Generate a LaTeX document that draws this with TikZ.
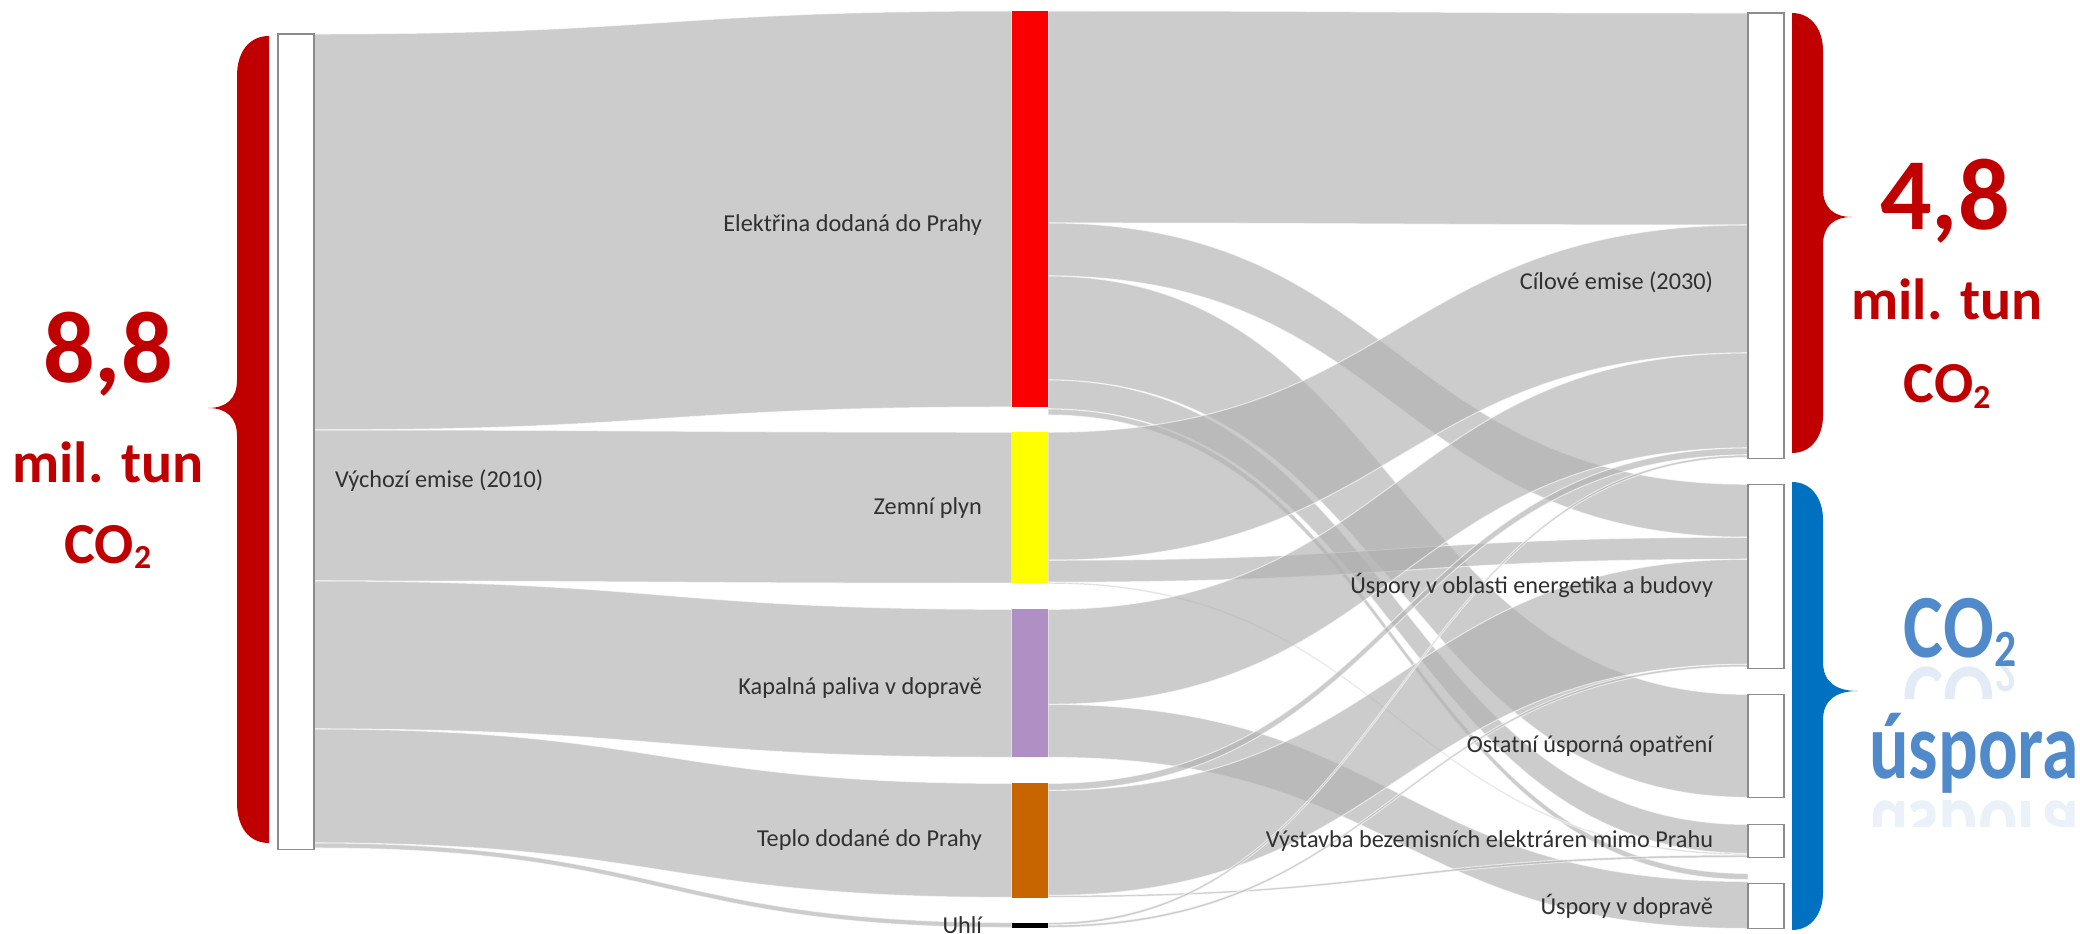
\documentclass[tikz,border=0pt]{standalone}
\usepackage{fontspec}
\usepackage{graphicx}
\setmainfont{Carlito}
\usetikzlibrary{positioning,calc}

\definecolor{stromrot}{RGB}{250,0,0}
\definecolor{plynzluta}{RGB}{255,255,0}
\definecolor{palivofialova}{RGB}{176,144,196}
\definecolor{teplooranz}{RGB}{199,101,0}
\definecolor{bracered}{RGB}{192,0,0}
\definecolor{braceblue}{RGB}{0,112,192}
\definecolor{saveblue}{RGB}{80,138,202}
\definecolor{flowgray}{RGB}{176,176,176}
\definecolor{labelgray}{RGB}{48,48,48}

\newcommand{\cotwo}{CO\raisebox{-0.1em}{\scalebox{0.58}{2}}}

\begin{document}
\begin{tikzpicture}
                    [
                        x=0.01cm, y=-0.01cm,
                        every node/.style={inner sep=0pt, outer sep=0pt},
                        box/.style={draw=black!45, line width=0.4pt, fill=white, minimum width=0.36cm, anchor=north west},
                        bar/.style={minimum width=0.36cm, anchor=north west},
                        lbl/.style={text=labelgray, font=\fontsize{6.9}{8}\selectfont},
                        flow/.style={fill=flowgray, fill opacity=0.65, draw=white, draw opacity=0.6, line width=0.3pt},
                        big/.style={text=bracered, font=\bfseries\fontsize{16.5}{18}\selectfont, anchor=base},
                        bluebig/.style={text=saveblue, font=\bfseries\fontsize{21.4}{24}\selectfont, anchor=base}
                    ]

                    % Rahmen
                    \useasboundingbox (0,0) rectangle (2080,934);

                    % Knoten
                    \node[box, minimum height=8.15cm] (start) at (278,34) {};
                    \node[bar, fill=stromrot, minimum height=3.96cm] (elec) at (1012,11) {};
                    \node[bar, fill=plynzluta, minimum height=1.51cm, below=0.25cm of elec] (gas) {};
                    \node[bar, fill=palivofialova, minimum height=1.48cm, below=0.26cm of gas] (fuel) {};
                    \node[bar, fill=teplooranz, minimum height=1.14cm, below=0.26cm of fuel] (heat) {};
                    \node[bar, fill=black, minimum height=0.05cm, below=0.25cm of heat] (coal) {};
                    \node[box, minimum height=4.45cm] (target) at (1748,13) {};
                    \node[box, minimum height=1.84cm, below=0.26cm of target] (saveb) {};
                    \node[box, minimum height=1.03cm, below=0.26cm of saveb] (saveo) {};
                    \node[box, minimum height=0.33cm, below=0.27cm of saveo] (savep) {};
                    \node[box, minimum height=0.45cm, below=0.26cm of savep] (savet) {};

                    % Fluesse
                    \foreach \src/\sa/\sb/\dst/\ta/\tb in {
                        start/0/396/elec/0/396, start/396/547/gas/0/151, start/547/695/fuel/0/148,
                        start/695/809/heat/0/114, start/809/814/coal/0/5,
                        elec/0/212/target/0/212, elec/212/265/saveb/0/53, elec/265/369/saveo/0/103,
                        elec/369/398/savep/0/29, elec/398/404/savet/-10/-4,
                        gas/0/128/target/212/340, gas/128/150/saveb/53/75, gas/150/151.5/savep/29/30.5,
                        fuel/0/95/target/340/435, fuel/95/148/savet/-2/45,
                        heat/0/7/target/435/442, heat/7/112/saveb/75/180, heat/112/114/savep/30.5/33,
                        coal/0/2.5/target/442/444.5, coal/2.5/5/saveb/180/182.5}
                    {
                        \path ($(\src.north east)+(0,\sa)$) coordinate (a1)
                              ($(\src.north east)+(0,\sb)$) coordinate (a2)
                              ($(\dst.north west)+(0,\ta)$) coordinate (b1)
                              ($(\dst.north west)+(0,\tb)$) coordinate (b2)
                              ($(a1)!.5!(b1)$) coordinate (m);
                        \path[flow] (a1) .. controls (m |- a1) and (m |- b1) .. (b1) -- (b2)
                              .. controls (m |- b2) and (m |- a2) .. (a2) -- cycle;
                    }

                    % Knoten nochmal oben
                    \node[box, minimum height=8.15cm] at (278,34) {};
                    \foreach \n/\c in {elec/stromrot, gas/plynzluta, fuel/palivofialova, heat/teplooranz, coal/black}
                        \fill[\c] (\n.north west) rectangle (\n.south east);
                    \foreach \n in {target, saveb, saveo, savep, savet}
                        \draw[draw=black!45, line width=0.4pt, fill=white] (\n.north west) rectangle (\n.south east);

                    % Beschriftung
                    \node[lbl, right=0.21cm of start, yshift=-0.385cm] (startlbl) {Výchozí emise (2010)};
                    \node[lbl, left=0.3cm of elec, yshift=-0.16cm] (eleclbl) {Elektřina dodaná do Prahy};
                    \node[lbl, left=0.3cm of gas] (gaslbl) {Zemní plyn};
                    \node[lbl, left=0.3cm of fuel, yshift=-0.05cm] (fuellbl) {Kapalná paliva v dopravě};
                    \node[lbl, left=0.3cm of heat] (heatlbl) {Teplo dodané do Prahy};
                    \node[lbl, left=0.3cm of coal] (coallbl) {Uhlí};
                    \node[lbl, left=0.35cm of target, yshift=-0.465cm] (targetlbl) {Cílové emise (2030)};
                    \node[lbl, left=0.35cm of saveb, yshift=-0.09cm] (saveblbl) {Úspory v oblasti energetika a budovy};
                    \node[lbl, left=0.35cm of saveo] (saveolbl) {Ostatní úsporná opatření};
                    \node[lbl, left=0.35cm of savep] (saveplbl) {Výstavba bezemisních elektráren mimo Prahu};
                    \node[lbl, left=0.35cm of savet] (savetlbl) {Úspory v dopravě};

                    % Klammern
                    \fill[bracered] (269,36) .. controls (249,36) and (237,52) .. (237,76) -- (237,380)
                        .. controls (237,399) and (226,408) .. (208,408) .. controls (226,408) and (237,417) .. (237,436)
                        -- (237,803) .. controls (237,827) and (249,843) .. (269,843) -- cycle;
                    \fill[bracered] (1792,13) .. controls (1811,13) and (1823,29) .. (1823,51) -- (1823,189)
                        .. controls (1823,208) and (1834,217) .. (1852,217) .. controls (1834,217) and (1823,226) .. (1823,245)
                        -- (1823,415) .. controls (1823,437) and (1811,453) .. (1792,453) -- cycle;
                    \fill[braceblue] (1792,482) .. controls (1811,482) and (1823,498) .. (1823,520) -- (1823,662)
                        .. controls (1823,682) and (1836,691) .. (1858,691) .. controls (1836,691) and (1823,700) .. (1823,720)
                        -- (1823,892) .. controls (1823,914) and (1811,930) .. (1792,930) -- cycle;

                    % Summen
                    \node[big, font=\bfseries\fontsize{29}{32}\selectfont] (lnum) at (108,383) {8,8};
                    \node[big] (lunit) at (108,482) {mil. tun};
                    \node[big] (lco) at (108,563) {\cotwo};
                    \node[big, font=\bfseries\fontsize{29}{32}\selectfont] (rnum) at (1945,230) {4,8};
                    \node[big] (runit) at (1947,320) {mil. tun};
                    \node[big] (rco) at (1947,403) {\cotwo};
                    \node[bluebig, yscale=1.2] (sco) at (1960,657) {\cotwo};
                    \node[bluebig, font=\bfseries\fontsize{21}{24}\selectfont, yscale=1.28] (sword) at (1974,778) {úspora};

                    % Spiegelung
                    \begin{scope}
                        \clip (1860,666) rectangle (2080,698);
                        \node[bluebig, yscale=-1.2, opacity=0.16] at (1960,667) {\cotwo};
                    \end{scope}
                    \begin{scope}
                        \clip (1850,800) rectangle (2080,826);
                        \node[bluebig, font=\bfseries\fontsize{21}{24}\selectfont, yscale=-1.28, opacity=0.12] at (1974,801) {úspora};
                    \end{scope}
\end{tikzpicture}
\end{document}
